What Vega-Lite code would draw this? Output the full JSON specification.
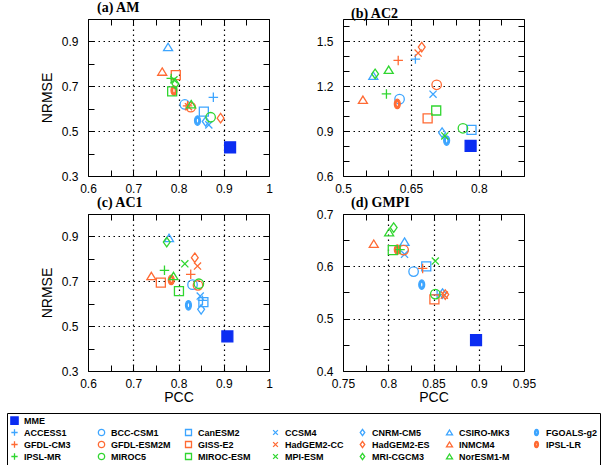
{
  "$schema": "https://vega.github.io/schema/vega-lite/v6.json",
  "padding": {"left": 6, "top": 0, "right": 0, "bottom": 0},
  "background": "white",
  "config": {
    "view": {"stroke": "black", "strokeWidth": 1},
    "axis": {
      "domain": false,
      "tickColor": "black",
      "tickSize": -6,
      "tickWidth": 1,
      "labelFont": "Liberation Sans",
      "labelFontSize": 12,
      "labelColor": "black",
      "labelPadding": 13,
      "labelOverlap": false,
      "labelFlush": false,
      "titleFont": "Liberation Sans",
      "titleFontSize": 14,
      "titleFontWeight": "normal",
      "titleColor": "black",
      "gridColor": "black",
      "gridDash": [1.5, 3.5],
      "gridWidth": 1.2
    },
    "axisY": {"labelPadding": 16},
    "title": {"font": "Liberation Serif", "fontSize": 14, "fontWeight": "bold", "anchor": "start", "frame": "group", "offset": -2, "color": "black"},
    "legend": {
      "strokeColor": "black",
      "padding": 3,
      "rowPadding": -1,
      "columnPadding": 11,
      "symbolSize": 40,
      "symbolStrokeWidth": 1.3,
      "labelFont": "Liberation Sans",
      "labelFontSize": 9,
      "labelFontWeight": "bold",
      "labelColor": "black",
      "labelOffset": 5,
      "gridAlign": "all"
    }
  },
  "datasets": {
    "a": [
      {"model": "ACCESS1", "pcc": 0.877, "nrmse": 0.651},
      {"model": "BCC-CSM1", "pcc": 0.814, "nrmse": 0.619},
      {"model": "CanESM2", "pcc": 0.856, "nrmse": 0.587},
      {"model": "CCSM4", "pcc": 0.867, "nrmse": 0.528},
      {"model": "CNRM-CM5", "pcc": 0.86, "nrmse": 0.543},
      {"model": "CSIRO-MK3", "pcc": 0.777, "nrmse": 0.875},
      {"model": "FGOALS-g2", "pcc": 0.842, "nrmse": 0.547},
      {"model": "HadGEM2-CC", "pcc": 0.822, "nrmse": 0.609},
      {"model": "GFDL-CM3", "pcc": 0.82, "nrmse": 0.613},
      {"model": "GFDL-ESM2M", "pcc": 0.827, "nrmse": 0.607},
      {"model": "GISS-E2", "pcc": 0.794, "nrmse": 0.75},
      {"model": "HadGEM2-ES", "pcc": 0.893, "nrmse": 0.558},
      {"model": "INMCM4", "pcc": 0.764, "nrmse": 0.765},
      {"model": "IPSL-LR", "pcc": 0.79, "nrmse": 0.681},
      {"model": "IPSL-MR", "pcc": 0.784, "nrmse": 0.735},
      {"model": "MIROC5", "pcc": 0.871, "nrmse": 0.562},
      {"model": "MIROC-ESM", "pcc": 0.786, "nrmse": 0.677},
      {"model": "MPI-ESM", "pcc": 0.79, "nrmse": 0.729},
      {"model": "MRI-CGCM3", "pcc": 0.793, "nrmse": 0.711},
      {"model": "NorESM1-M", "pcc": 0.828, "nrmse": 0.62},
      {"model": "MME", "pcc": 0.914, "nrmse": 0.428}
    ],
    "b": [
      {"model": "ACCESS1", "pcc": 0.66, "nrmse": 1.382},
      {"model": "BCC-CSM1", "pcc": 0.625, "nrmse": 1.114},
      {"model": "CanESM2", "pcc": 0.784, "nrmse": 0.908},
      {"model": "CCSM4", "pcc": 0.699, "nrmse": 1.147},
      {"model": "CNRM-CM5", "pcc": 0.719, "nrmse": 0.89},
      {"model": "CSIRO-MK3", "pcc": 0.567, "nrmse": 1.27},
      {"model": "FGOALS-g2", "pcc": 0.729, "nrmse": 0.837},
      {"model": "GFDL-CM3", "pcc": 0.622, "nrmse": 1.373},
      {"model": "GFDL-ESM2M", "pcc": 0.707, "nrmse": 1.21},
      {"model": "GISS-E2", "pcc": 0.687, "nrmse": 0.986},
      {"model": "HadGEM2-CC", "pcc": 0.666, "nrmse": 1.422},
      {"model": "HadGEM2-ES", "pcc": 0.674, "nrmse": 1.462},
      {"model": "INMCM4", "pcc": 0.544, "nrmse": 1.109},
      {"model": "IPSL-LR", "pcc": 0.62, "nrmse": 1.082},
      {"model": "IPSL-MR", "pcc": 0.596, "nrmse": 1.149},
      {"model": "MIROC5", "pcc": 0.765, "nrmse": 0.919},
      {"model": "MIROC-ESM", "pcc": 0.706, "nrmse": 1.038},
      {"model": "MPI-ESM", "pcc": 0.725, "nrmse": 0.868},
      {"model": "MRI-CGCM3", "pcc": 0.571, "nrmse": 1.283},
      {"model": "NorESM1-M", "pcc": 0.601, "nrmse": 1.31},
      {"model": "MME", "pcc": 0.782, "nrmse": 0.801}
    ],
    "c": [
      {"model": "ACCESS1", "pcc": 0.853, "nrmse": 0.615},
      {"model": "BCC-CSM1", "pcc": 0.831, "nrmse": 0.685},
      {"model": "CanESM2", "pcc": 0.855, "nrmse": 0.607},
      {"model": "CCSM4", "pcc": 0.848, "nrmse": 0.634},
      {"model": "CNRM-CM5", "pcc": 0.85, "nrmse": 0.575},
      {"model": "CSIRO-MK3", "pcc": 0.779, "nrmse": 0.893},
      {"model": "FGOALS-g2", "pcc": 0.822, "nrmse": 0.593},
      {"model": "GFDL-CM3", "pcc": 0.827, "nrmse": 0.731},
      {"model": "GFDL-ESM2M", "pcc": 0.843, "nrmse": 0.682},
      {"model": "GISS-E2", "pcc": 0.761, "nrmse": 0.694},
      {"model": "HadGEM2-CC", "pcc": 0.842, "nrmse": 0.768},
      {"model": "HadGEM2-ES", "pcc": 0.836, "nrmse": 0.805},
      {"model": "INMCM4", "pcc": 0.74, "nrmse": 0.723},
      {"model": "IPSL-LR", "pcc": 0.784, "nrmse": 0.706},
      {"model": "IPSL-MR", "pcc": 0.769, "nrmse": 0.749},
      {"model": "MIROC5", "pcc": 0.845, "nrmse": 0.689},
      {"model": "MIROC-ESM", "pcc": 0.801, "nrmse": 0.656},
      {"model": "MPI-ESM", "pcc": 0.814, "nrmse": 0.778},
      {"model": "MRI-CGCM3", "pcc": 0.774, "nrmse": 0.875},
      {"model": "NorESM1-M", "pcc": 0.789, "nrmse": 0.723},
      {"model": "MME", "pcc": 0.908, "nrmse": 0.454}
    ],
    "d": [
      {"model": "ACCESS1", "pcc": 0.854, "nrmse": 0.546},
      {"model": "BCC-CSM1", "pcc": 0.828, "nrmse": 0.59},
      {"model": "CanESM2", "pcc": 0.842, "nrmse": 0.6},
      {"model": "CCSM4", "pcc": 0.818, "nrmse": 0.623},
      {"model": "CNRM-CM5", "pcc": 0.86, "nrmse": 0.548},
      {"model": "CSIRO-MK3", "pcc": 0.818, "nrmse": 0.647},
      {"model": "FGOALS-g2", "pcc": 0.837, "nrmse": 0.565},
      {"model": "GFDL-CM3", "pcc": 0.838, "nrmse": 0.596},
      {"model": "GFDL-ESM2M", "pcc": 0.817, "nrmse": 0.631},
      {"model": "GISS-E2", "pcc": 0.851, "nrmse": 0.537},
      {"model": "HadGEM2-CC", "pcc": 0.862, "nrmse": 0.545},
      {"model": "HadGEM2-ES", "pcc": 0.863, "nrmse": 0.546},
      {"model": "INMCM4", "pcc": 0.784, "nrmse": 0.643},
      {"model": "IPSL-LR", "pcc": 0.81, "nrmse": 0.632},
      {"model": "IPSL-MR", "pcc": 0.813, "nrmse": 0.632},
      {"model": "MIROC5", "pcc": 0.852, "nrmse": 0.547},
      {"model": "MIROC-ESM", "pcc": 0.805, "nrmse": 0.631},
      {"model": "MPI-ESM", "pcc": 0.852, "nrmse": 0.61},
      {"model": "MRI-CGCM3", "pcc": 0.806, "nrmse": 0.674},
      {"model": "NorESM1-M", "pcc": 0.801, "nrmse": 0.665},
      {"model": "MME", "pcc": 0.897, "nrmse": 0.459}
    ]
  },
  "columns": 2,
  "spacing": {"row": 0, "column": 42},
  "concat": [
    {
      "width": 181, "height": 157,
      "title": {"text": "(a) AM", "dx": 9},
      "data": {"name": "a"},
      "layer": [
        {
          "mark": {"type": "point", "size": 90, "strokeWidth": 1.3, "opacity": 1},
          "encoding": {
            "x": {"field": "pcc", "type": "quantitative", "scale": {"domain": [0.6, 1.0], "nice": false, "zero": false},
              "axis": {"orient": "bottom", "title": null, "grid": true, "values": [0.6, 0.65, 0.7, 0.75, 0.8, 0.85, 0.9, 0.95, 1.0],
                "labelExpr": "round(datum.value*100)%10==0 ? format(datum.value,'~g') : ''",
                "gridOpacity": {"condition": {"test": "round(datum.value*100)%10==0 && datum.value>0.61 && datum.value<0.99", "value": 1}, "value": 0}}},
            "y": {"field": "nrmse", "type": "quantitative", "scale": {"domain": [0.3, 1.0], "nice": false, "zero": false},
              "axis": {"orient": "left", "title": "NRMSE", "titlePadding": 7, "grid": true, "values": [0.3, 0.4, 0.5, 0.6, 0.7, 0.8, 0.9, 1.0],
                "labelExpr": "round(datum.value*10)%2==1 ? format(datum.value,'~g') : ''",
                "gridOpacity": {"condition": {"test": "round(datum.value*10)%2==1 && datum.value>0.31", "value": 1}, "value": 0}}},
            "stroke": {"field": "model", "type": "nominal",
              "scale": {"domain": ["MME","_1","_2","_3","_4","_5","_6","ACCESS1","BCC-CSM1","CanESM2","CCSM4","CNRM-CM5","CSIRO-MK3","FGOALS-g2","GFDL-CM3","GFDL-ESM2M","GISS-E2","HadGEM2-CC","HadGEM2-ES","INMCM4","IPSL-LR","IPSL-MR","MIROC5","MIROC-ESM","MPI-ESM","MRI-CGCM3","NorESM1-M"],
                "range": ["#0b2df2","transparent","transparent","transparent","transparent","transparent","transparent","#3da5ff","#3da5ff","#3da5ff","#3da5ff","#3da5ff","#3da5ff","#3da5ff","#ff6a33","#ff6a33","#ff6a33","#ff6a33","#ff6a33","#ff6a33","#ff6a33","#30d630","#30d630","#30d630","#30d630","#30d630","#30d630"]},
              "legend": {"orient": "none", "legendX": -81, "legendY": 394, "columns": 7, "direction": "horizontal", "title": null,
                "labelExpr": "indexof(datum.label,'_')==0 ? '' : datum.label"}},
            "fill": {"field": "model", "type": "nominal",
              "scale": {"domain": ["MME","_1","_2","_3","_4","_5","_6","ACCESS1","BCC-CSM1","CanESM2","CCSM4","CNRM-CM5","CSIRO-MK3","FGOALS-g2","GFDL-CM3","GFDL-ESM2M","GISS-E2","HadGEM2-CC","HadGEM2-ES","INMCM4","IPSL-LR","IPSL-MR","MIROC5","MIROC-ESM","MPI-ESM","MRI-CGCM3","NorESM1-M"],
                "range": ["#0b2df2","transparent","transparent","transparent","transparent","transparent","transparent","transparent","transparent","transparent","transparent","transparent","transparent","#3da5ff","transparent","transparent","transparent","transparent","transparent","transparent","#ff6a33","transparent","transparent","transparent","transparent","transparent","transparent"]}},
            "shape": {"field": "model", "type": "nominal",
              "scale": {"domain": ["MME","_1","_2","_3","_4","_5","_6","ACCESS1","BCC-CSM1","CanESM2","CCSM4","CNRM-CM5","CSIRO-MK3","FGOALS-g2","GFDL-CM3","GFDL-ESM2M","GISS-E2","HadGEM2-CC","HadGEM2-ES","INMCM4","IPSL-LR","IPSL-MR","MIROC5","MIROC-ESM","MPI-ESM","MRI-CGCM3","NorESM1-M"],
                "range": ["M-1.15,-1.15H1.15V1.15H-1.15Z","M0,0Z","M0,0Z","M0,0Z","M0,0Z","M0,0Z","M0,0Z",
                  "M-1,0H1M0,-1V1","M-1,0A1,1 0 1,1 1,0A1,1 0 1,1 -1,0Z","M-0.95,-0.95H0.95V0.95H-0.95Z","M-0.75,-0.75L0.75,0.75M-0.75,0.75L0.75,-0.75","M0,-1L0.72,0L0,1L-0.72,0Z","M0,-0.8L0.95,0.75L-0.95,0.75Z","M0,-1A0.62,1 0 1,1 0,1A0.62,1 0 1,1 0,-1ZM0,-0.55A0.28,0.55 0 1,0 0,0.55A0.28,0.55 0 1,0 0,-0.55Z",
                  "M-1,0H1M0,-1V1","M-1,0A1,1 0 1,1 1,0A1,1 0 1,1 -1,0Z","M-0.95,-0.95H0.95V0.95H-0.95Z","M-0.75,-0.75L0.75,0.75M-0.75,0.75L0.75,-0.75","M0,-1L0.72,0L0,1L-0.72,0Z","M0,-0.8L0.95,0.75L-0.95,0.75Z","M0,-1A0.62,1 0 1,1 0,1A0.62,1 0 1,1 0,-1ZM0,-0.55A0.28,0.55 0 1,0 0,0.55A0.28,0.55 0 1,0 0,-0.55Z",
                  "M-1,0H1M0,-1V1","M-1,0A1,1 0 1,1 1,0A1,1 0 1,1 -1,0Z","M-0.95,-0.95H0.95V0.95H-0.95Z","M-0.75,-0.75L0.75,0.75M-0.75,0.75L0.75,-0.75","M0,-1L0.72,0L0,1L-0.72,0Z","M0,-0.8L0.95,0.75L-0.95,0.75Z"]}}
          }
        },
        {
          "mark": {"type": "point", "opacity": 0},
          "encoding": {
            "x": {"field": "pcc", "type": "quantitative", "scale": {"domain": [0.6, 1.0], "nice": false, "zero": false},
              "axis": {"orient": "top", "title": null, "labels": false, "grid": false, "values": [0.6, 0.65, 0.7, 0.75, 0.8, 0.85, 0.9, 0.95, 1.0]}},
            "y": {"field": "nrmse", "type": "quantitative", "scale": {"domain": [0.3, 1.0], "nice": false, "zero": false},
              "axis": {"orient": "right", "title": null, "labels": false, "grid": false, "values": [0.3, 0.4, 0.5, 0.6, 0.7, 0.8, 0.9, 1.0]}}
          }
        }
      ],
      "resolve": {"axis": {"x": "independent", "y": "independent"}}
    },
    {
      "width": 181, "height": 157,
      "title": {"text": "(b) AC2", "dx": 8},
      "data": {"name": "b"},
      "layer": [
        {
          "mark": {"type": "point", "size": 90, "strokeWidth": 1.3, "opacity": 1},
          "encoding": {
            "x": {"field": "pcc", "type": "quantitative", "scale": {"domain": [0.5, 0.9], "nice": false, "zero": false},
              "axis": {"orient": "bottom", "title": null, "grid": true, "values": [0.5, 0.55, 0.6, 0.65, 0.7, 0.75, 0.8, 0.85, 0.9],
                "labelExpr": "(round(datum.value*100)-50)%15==0 ? format(datum.value,'~g') : ''",
                "gridOpacity": {"condition": {"test": "(round(datum.value*100)-50)%15==0 && datum.value>0.51 && datum.value<0.89", "value": 1}, "value": 0}}},
            "y": {"field": "nrmse", "type": "quantitative", "scale": {"domain": [0.6, 1.65], "nice": false, "zero": false},
              "axis": {"orient": "left", "title": null, "grid": true, "values": [0.6, 0.7, 0.8, 0.9, 1.0, 1.1, 1.2, 1.3, 1.4, 1.5, 1.6],
                "labelExpr": "(round(datum.value*10)-6)%3==0 ? format(datum.value,'~g') : ''",
                "gridOpacity": {"condition": {"test": "(round(datum.value*10)-6)%3==0 && datum.value>0.61", "value": 1}, "value": 0}}},
            "stroke": {"field": "model", "type": "nominal",
              "scale": {"domain": ["MME","_1","_2","_3","_4","_5","_6","ACCESS1","BCC-CSM1","CanESM2","CCSM4","CNRM-CM5","CSIRO-MK3","FGOALS-g2","GFDL-CM3","GFDL-ESM2M","GISS-E2","HadGEM2-CC","HadGEM2-ES","INMCM4","IPSL-LR","IPSL-MR","MIROC5","MIROC-ESM","MPI-ESM","MRI-CGCM3","NorESM1-M"],
                "range": ["#0b2df2","transparent","transparent","transparent","transparent","transparent","transparent","#3da5ff","#3da5ff","#3da5ff","#3da5ff","#3da5ff","#3da5ff","#3da5ff","#ff6a33","#ff6a33","#ff6a33","#ff6a33","#ff6a33","#ff6a33","#ff6a33","#30d630","#30d630","#30d630","#30d630","#30d630","#30d630"]},
              "legend": {"orient": "none", "legendX": -81, "legendY": 394, "columns": 7, "direction": "horizontal", "title": null,
                "labelExpr": "indexof(datum.label,'_')==0 ? '' : datum.label"}},
            "fill": {"field": "model", "type": "nominal",
              "scale": {"domain": ["MME","_1","_2","_3","_4","_5","_6","ACCESS1","BCC-CSM1","CanESM2","CCSM4","CNRM-CM5","CSIRO-MK3","FGOALS-g2","GFDL-CM3","GFDL-ESM2M","GISS-E2","HadGEM2-CC","HadGEM2-ES","INMCM4","IPSL-LR","IPSL-MR","MIROC5","MIROC-ESM","MPI-ESM","MRI-CGCM3","NorESM1-M"],
                "range": ["#0b2df2","transparent","transparent","transparent","transparent","transparent","transparent","transparent","transparent","transparent","transparent","transparent","transparent","#3da5ff","transparent","transparent","transparent","transparent","transparent","transparent","#ff6a33","transparent","transparent","transparent","transparent","transparent","transparent"]}},
            "shape": {"field": "model", "type": "nominal",
              "scale": {"domain": ["MME","_1","_2","_3","_4","_5","_6","ACCESS1","BCC-CSM1","CanESM2","CCSM4","CNRM-CM5","CSIRO-MK3","FGOALS-g2","GFDL-CM3","GFDL-ESM2M","GISS-E2","HadGEM2-CC","HadGEM2-ES","INMCM4","IPSL-LR","IPSL-MR","MIROC5","MIROC-ESM","MPI-ESM","MRI-CGCM3","NorESM1-M"],
                "range": ["M-1.15,-1.15H1.15V1.15H-1.15Z","M0,0Z","M0,0Z","M0,0Z","M0,0Z","M0,0Z","M0,0Z",
                  "M-1,0H1M0,-1V1","M-1,0A1,1 0 1,1 1,0A1,1 0 1,1 -1,0Z","M-0.95,-0.95H0.95V0.95H-0.95Z","M-0.75,-0.75L0.75,0.75M-0.75,0.75L0.75,-0.75","M0,-1L0.72,0L0,1L-0.72,0Z","M0,-0.8L0.95,0.75L-0.95,0.75Z","M0,-1A0.62,1 0 1,1 0,1A0.62,1 0 1,1 0,-1ZM0,-0.55A0.28,0.55 0 1,0 0,0.55A0.28,0.55 0 1,0 0,-0.55Z",
                  "M-1,0H1M0,-1V1","M-1,0A1,1 0 1,1 1,0A1,1 0 1,1 -1,0Z","M-0.95,-0.95H0.95V0.95H-0.95Z","M-0.75,-0.75L0.75,0.75M-0.75,0.75L0.75,-0.75","M0,-1L0.72,0L0,1L-0.72,0Z","M0,-0.8L0.95,0.75L-0.95,0.75Z","M0,-1A0.62,1 0 1,1 0,1A0.62,1 0 1,1 0,-1ZM0,-0.55A0.28,0.55 0 1,0 0,0.55A0.28,0.55 0 1,0 0,-0.55Z",
                  "M-1,0H1M0,-1V1","M-1,0A1,1 0 1,1 1,0A1,1 0 1,1 -1,0Z","M-0.95,-0.95H0.95V0.95H-0.95Z","M-0.75,-0.75L0.75,0.75M-0.75,0.75L0.75,-0.75","M0,-1L0.72,0L0,1L-0.72,0Z","M0,-0.8L0.95,0.75L-0.95,0.75Z"]}}
          }
        },
        {
          "mark": {"type": "point", "opacity": 0},
          "encoding": {
            "x": {"field": "pcc", "type": "quantitative", "scale": {"domain": [0.5, 0.9], "nice": false, "zero": false},
              "axis": {"orient": "top", "title": null, "labels": false, "grid": false, "values": [0.5, 0.55, 0.6, 0.65, 0.7, 0.75, 0.8, 0.85, 0.9]}},
            "y": {"field": "nrmse", "type": "quantitative", "scale": {"domain": [0.6, 1.65], "nice": false, "zero": false},
              "axis": {"orient": "right", "title": null, "labels": false, "grid": false, "values": [0.6, 0.7, 0.8, 0.9, 1.0, 1.1, 1.2, 1.3, 1.4, 1.5, 1.6]}}
          }
        }
      ],
      "resolve": {"axis": {"x": "independent", "y": "independent"}}
    },
    {
      "width": 181, "height": 157,
      "title": {"text": "(c) AC1", "dx": 9},
      "data": {"name": "c"},
      "layer": [
        {
          "mark": {"type": "point", "size": 90, "strokeWidth": 1.3, "opacity": 1},
          "encoding": {
            "x": {"field": "pcc", "type": "quantitative", "scale": {"domain": [0.6, 1.0], "nice": false, "zero": false},
              "axis": {"orient": "bottom", "title": "PCC", "titlePadding": 1.5, "grid": true, "values": [0.6, 0.65, 0.7, 0.75, 0.8, 0.85, 0.9, 0.95, 1.0],
                "labelExpr": "round(datum.value*100)%10==0 ? format(datum.value,'~g') : ''",
                "gridOpacity": {"condition": {"test": "round(datum.value*100)%10==0 && datum.value>0.61 && datum.value<0.99", "value": 1}, "value": 0}}},
            "y": {"field": "nrmse", "type": "quantitative", "scale": {"domain": [0.3, 1.0], "nice": false, "zero": false},
              "axis": {"orient": "left", "title": "NRMSE", "titlePadding": 7, "grid": true, "values": [0.3, 0.4, 0.5, 0.6, 0.7, 0.8, 0.9, 1.0],
                "labelExpr": "round(datum.value*10)%2==1 ? format(datum.value,'~g') : ''",
                "gridOpacity": {"condition": {"test": "round(datum.value*10)%2==1 && datum.value>0.31", "value": 1}, "value": 0}}},
            "stroke": {"field": "model", "type": "nominal",
              "scale": {"domain": ["MME","_1","_2","_3","_4","_5","_6","ACCESS1","BCC-CSM1","CanESM2","CCSM4","CNRM-CM5","CSIRO-MK3","FGOALS-g2","GFDL-CM3","GFDL-ESM2M","GISS-E2","HadGEM2-CC","HadGEM2-ES","INMCM4","IPSL-LR","IPSL-MR","MIROC5","MIROC-ESM","MPI-ESM","MRI-CGCM3","NorESM1-M"],
                "range": ["#0b2df2","transparent","transparent","transparent","transparent","transparent","transparent","#3da5ff","#3da5ff","#3da5ff","#3da5ff","#3da5ff","#3da5ff","#3da5ff","#ff6a33","#ff6a33","#ff6a33","#ff6a33","#ff6a33","#ff6a33","#ff6a33","#30d630","#30d630","#30d630","#30d630","#30d630","#30d630"]},
              "legend": {"orient": "none", "legendX": -81, "legendY": 394, "columns": 7, "direction": "horizontal", "title": null,
                "labelExpr": "indexof(datum.label,'_')==0 ? '' : datum.label"}},
            "fill": {"field": "model", "type": "nominal",
              "scale": {"domain": ["MME","_1","_2","_3","_4","_5","_6","ACCESS1","BCC-CSM1","CanESM2","CCSM4","CNRM-CM5","CSIRO-MK3","FGOALS-g2","GFDL-CM3","GFDL-ESM2M","GISS-E2","HadGEM2-CC","HadGEM2-ES","INMCM4","IPSL-LR","IPSL-MR","MIROC5","MIROC-ESM","MPI-ESM","MRI-CGCM3","NorESM1-M"],
                "range": ["#0b2df2","transparent","transparent","transparent","transparent","transparent","transparent","transparent","transparent","transparent","transparent","transparent","transparent","#3da5ff","transparent","transparent","transparent","transparent","transparent","transparent","#ff6a33","transparent","transparent","transparent","transparent","transparent","transparent"]}},
            "shape": {"field": "model", "type": "nominal",
              "scale": {"domain": ["MME","_1","_2","_3","_4","_5","_6","ACCESS1","BCC-CSM1","CanESM2","CCSM4","CNRM-CM5","CSIRO-MK3","FGOALS-g2","GFDL-CM3","GFDL-ESM2M","GISS-E2","HadGEM2-CC","HadGEM2-ES","INMCM4","IPSL-LR","IPSL-MR","MIROC5","MIROC-ESM","MPI-ESM","MRI-CGCM3","NorESM1-M"],
                "range": ["M-1.15,-1.15H1.15V1.15H-1.15Z","M0,0Z","M0,0Z","M0,0Z","M0,0Z","M0,0Z","M0,0Z",
                  "M-1,0H1M0,-1V1","M-1,0A1,1 0 1,1 1,0A1,1 0 1,1 -1,0Z","M-0.95,-0.95H0.95V0.95H-0.95Z","M-0.75,-0.75L0.75,0.75M-0.75,0.75L0.75,-0.75","M0,-1L0.72,0L0,1L-0.72,0Z","M0,-0.8L0.95,0.75L-0.95,0.75Z","M0,-1A0.62,1 0 1,1 0,1A0.62,1 0 1,1 0,-1ZM0,-0.55A0.28,0.55 0 1,0 0,0.55A0.28,0.55 0 1,0 0,-0.55Z",
                  "M-1,0H1M0,-1V1","M-1,0A1,1 0 1,1 1,0A1,1 0 1,1 -1,0Z","M-0.95,-0.95H0.95V0.95H-0.95Z","M-0.75,-0.75L0.75,0.75M-0.75,0.75L0.75,-0.75","M0,-1L0.72,0L0,1L-0.72,0Z","M0,-0.8L0.95,0.75L-0.95,0.75Z","M0,-1A0.62,1 0 1,1 0,1A0.62,1 0 1,1 0,-1ZM0,-0.55A0.28,0.55 0 1,0 0,0.55A0.28,0.55 0 1,0 0,-0.55Z",
                  "M-1,0H1M0,-1V1","M-1,0A1,1 0 1,1 1,0A1,1 0 1,1 -1,0Z","M-0.95,-0.95H0.95V0.95H-0.95Z","M-0.75,-0.75L0.75,0.75M-0.75,0.75L0.75,-0.75","M0,-1L0.72,0L0,1L-0.72,0Z","M0,-0.8L0.95,0.75L-0.95,0.75Z"]}}
          }
        },
        {
          "mark": {"type": "point", "opacity": 0},
          "encoding": {
            "x": {"field": "pcc", "type": "quantitative", "scale": {"domain": [0.6, 1.0], "nice": false, "zero": false},
              "axis": {"orient": "top", "title": null, "labels": false, "grid": false, "values": [0.6, 0.65, 0.7, 0.75, 0.8, 0.85, 0.9, 0.95, 1.0]}},
            "y": {"field": "nrmse", "type": "quantitative", "scale": {"domain": [0.3, 1.0], "nice": false, "zero": false},
              "axis": {"orient": "right", "title": null, "labels": false, "grid": false, "values": [0.3, 0.4, 0.5, 0.6, 0.7, 0.8, 0.9, 1.0]}}
          }
        }
      ],
      "resolve": {"axis": {"x": "independent", "y": "independent"}}
    },
    {
      "width": 181, "height": 157,
      "title": {"text": "(d) GMPI", "dx": 8},
      "data": {"name": "d"},
      "layer": [
        {
          "mark": {"type": "point", "size": 90, "strokeWidth": 1.3, "opacity": 1},
          "encoding": {
            "x": {"field": "pcc", "type": "quantitative", "scale": {"domain": [0.75, 0.95], "nice": false, "zero": false},
              "axis": {"orient": "bottom", "title": "PCC", "titlePadding": 1.5, "grid": true, "values": [0.75, 0.775, 0.8, 0.825, 0.85, 0.875, 0.9, 0.925, 0.95],
                "labelExpr": "round(datum.value*1000)%50==0 ? format(datum.value,'~g') : ''",
                "gridOpacity": {"condition": {"test": "round(datum.value*1000)%50==0 && datum.value>0.76 && datum.value<0.94", "value": 1}, "value": 0}}},
            "y": {"field": "nrmse", "type": "quantitative", "scale": {"domain": [0.4, 0.7], "nice": false, "zero": false},
              "axis": {"orient": "left", "title": null, "grid": true, "values": [0.4, 0.45, 0.5, 0.55, 0.6, 0.65, 0.7],
                "labelExpr": "round(datum.value*100)%10==0 ? format(datum.value,'~g') : ''",
                "gridOpacity": {"condition": {"test": "round(datum.value*100)%10==0 && datum.value>0.41 && datum.value<0.69", "value": 1}, "value": 0}}},
            "stroke": {"field": "model", "type": "nominal",
              "scale": {"domain": ["MME","_1","_2","_3","_4","_5","_6","ACCESS1","BCC-CSM1","CanESM2","CCSM4","CNRM-CM5","CSIRO-MK3","FGOALS-g2","GFDL-CM3","GFDL-ESM2M","GISS-E2","HadGEM2-CC","HadGEM2-ES","INMCM4","IPSL-LR","IPSL-MR","MIROC5","MIROC-ESM","MPI-ESM","MRI-CGCM3","NorESM1-M"],
                "range": ["#0b2df2","transparent","transparent","transparent","transparent","transparent","transparent","#3da5ff","#3da5ff","#3da5ff","#3da5ff","#3da5ff","#3da5ff","#3da5ff","#ff6a33","#ff6a33","#ff6a33","#ff6a33","#ff6a33","#ff6a33","#ff6a33","#30d630","#30d630","#30d630","#30d630","#30d630","#30d630"]},
              "legend": {"orient": "none", "legendX": -81, "legendY": 394, "columns": 7, "direction": "horizontal", "title": null,
                "labelExpr": "indexof(datum.label,'_')==0 ? '' : datum.label"}},
            "fill": {"field": "model", "type": "nominal",
              "scale": {"domain": ["MME","_1","_2","_3","_4","_5","_6","ACCESS1","BCC-CSM1","CanESM2","CCSM4","CNRM-CM5","CSIRO-MK3","FGOALS-g2","GFDL-CM3","GFDL-ESM2M","GISS-E2","HadGEM2-CC","HadGEM2-ES","INMCM4","IPSL-LR","IPSL-MR","MIROC5","MIROC-ESM","MPI-ESM","MRI-CGCM3","NorESM1-M"],
                "range": ["#0b2df2","transparent","transparent","transparent","transparent","transparent","transparent","transparent","transparent","transparent","transparent","transparent","transparent","#3da5ff","transparent","transparent","transparent","transparent","transparent","transparent","#ff6a33","transparent","transparent","transparent","transparent","transparent","transparent"]}},
            "shape": {"field": "model", "type": "nominal",
              "scale": {"domain": ["MME","_1","_2","_3","_4","_5","_6","ACCESS1","BCC-CSM1","CanESM2","CCSM4","CNRM-CM5","CSIRO-MK3","FGOALS-g2","GFDL-CM3","GFDL-ESM2M","GISS-E2","HadGEM2-CC","HadGEM2-ES","INMCM4","IPSL-LR","IPSL-MR","MIROC5","MIROC-ESM","MPI-ESM","MRI-CGCM3","NorESM1-M"],
                "range": ["M-1.15,-1.15H1.15V1.15H-1.15Z","M0,0Z","M0,0Z","M0,0Z","M0,0Z","M0,0Z","M0,0Z",
                  "M-1,0H1M0,-1V1","M-1,0A1,1 0 1,1 1,0A1,1 0 1,1 -1,0Z","M-0.95,-0.95H0.95V0.95H-0.95Z","M-0.75,-0.75L0.75,0.75M-0.75,0.75L0.75,-0.75","M0,-1L0.72,0L0,1L-0.72,0Z","M0,-0.8L0.95,0.75L-0.95,0.75Z","M0,-1A0.62,1 0 1,1 0,1A0.62,1 0 1,1 0,-1ZM0,-0.55A0.28,0.55 0 1,0 0,0.55A0.28,0.55 0 1,0 0,-0.55Z",
                  "M-1,0H1M0,-1V1","M-1,0A1,1 0 1,1 1,0A1,1 0 1,1 -1,0Z","M-0.95,-0.95H0.95V0.95H-0.95Z","M-0.75,-0.75L0.75,0.75M-0.75,0.75L0.75,-0.75","M0,-1L0.72,0L0,1L-0.72,0Z","M0,-0.8L0.95,0.75L-0.95,0.75Z","M0,-1A0.62,1 0 1,1 0,1A0.62,1 0 1,1 0,-1ZM0,-0.55A0.28,0.55 0 1,0 0,0.55A0.28,0.55 0 1,0 0,-0.55Z",
                  "M-1,0H1M0,-1V1","M-1,0A1,1 0 1,1 1,0A1,1 0 1,1 -1,0Z","M-0.95,-0.95H0.95V0.95H-0.95Z","M-0.75,-0.75L0.75,0.75M-0.75,0.75L0.75,-0.75","M0,-1L0.72,0L0,1L-0.72,0Z","M0,-0.8L0.95,0.75L-0.95,0.75Z"]}}
          }
        },
        {
          "mark": {"type": "point", "opacity": 0},
          "encoding": {
            "x": {"field": "pcc", "type": "quantitative", "scale": {"domain": [0.75, 0.95], "nice": false, "zero": false},
              "axis": {"orient": "top", "title": null, "labels": false, "grid": false, "values": [0.75, 0.775, 0.8, 0.825, 0.85, 0.875, 0.9, 0.925, 0.95]}},
            "y": {"field": "nrmse", "type": "quantitative", "scale": {"domain": [0.4, 0.7], "nice": false, "zero": false},
              "axis": {"orient": "right", "title": null, "labels": false, "grid": false, "values": [0.4, 0.45, 0.5, 0.55, 0.6, 0.65, 0.7]}}
          }
        }
      ],
      "resolve": {"axis": {"x": "independent", "y": "independent"}}
    }
  ]
}
